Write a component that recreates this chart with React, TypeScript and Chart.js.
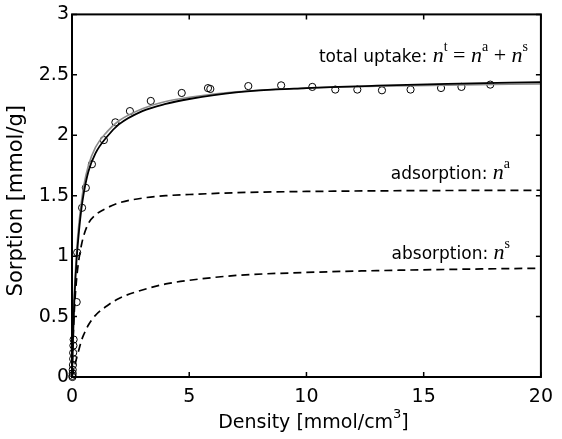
import React, { useEffect, useRef } from "react";
import { Chart, registerables } from "chart.js";

Chart.register(...registerables);

// ---- data ----
const X_CURVE = [0, 0.05, 0.1, 0.2, 0.3, 0.4, 0.5, 0.7, 1, 1.5, 2, 3, 4, 5, 7, 10, 13, 16, 20];
const N_ADSORPTION = [0, 0.32, 0.55, 0.82, 0.98, 1.09, 1.17, 1.27, 1.34, 1.4, 1.44, 1.48, 1.5, 1.51, 1.525, 1.535, 1.54, 1.543, 1.545];
const N_ABSORPTION = [0, 0.04, 0.08, 0.16, 0.23, 0.3, 0.35, 0.43, 0.51, 0.59, 0.65, 0.72, 0.77, 0.8, 0.84, 0.865, 0.88, 0.89, 0.9];
const N_TOTAL = [0, 0.36, 0.63, 0.98, 1.21, 1.39, 1.52, 1.7, 1.85, 1.99, 2.09, 2.2, 2.26, 2.3, 2.355, 2.39, 2.41, 2.425, 2.44];
const N_FIT = [0, 0.42, 0.7, 1.05, 1.28, 1.45, 1.58, 1.75, 1.9, 2.03, 2.12, 2.22, 2.28, 2.315, 2.36, 2.39, 2.405, 2.415, 2.425];

const MEAS_X = [0.02, 0.02, 0.03, 0.03, 0.04, 0.05, 0.05, 0.06, 0.07, 0.2, 0.22, 0.43, 0.59, 0.85, 1.36, 1.85, 2.47, 3.36, 4.68, 5.8, 5.9, 7.52, 8.92, 10.25, 11.23, 12.17, 13.22, 14.44, 15.74, 16.61, 17.84];
const MEAS_Y = [0.0, 0.01, 0.03, 0.06, 0.1, 0.15, 0.2, 0.26, 0.31, 0.62, 1.03, 1.4, 1.565, 1.76, 1.96, 2.107, 2.2, 2.284, 2.35, 2.39, 2.383, 2.407, 2.413, 2.4, 2.378, 2.378, 2.372, 2.378, 2.391, 2.4, 2.419];

const X_TICKS = [0, 5, 10, 15, 20];
const X_TICK_LABELS = ["0", "5", "10", "15", "20"];
const Y_TICKS = [0, 0.5, 1, 1.5, 2, 2.5, 3];
const Y_TICK_LABELS = ["0", "0.5", "1", "1.5", "2", "2.5", "3"];

const X_TITLE = "Density [mmol/cm";
const X_TITLE_SUP = "3";
const Y_TITLE = "Sorption [mmol/g]";

const SANS = "'DejaVu Sans', sans-serif";
const SERIF = "'Liberation Serif', 'Times New Roman', serif";

type Seg = { text: string; font: string; rise?: number };

function drawSegs(ctx: CanvasRenderingContext2D, segs: Seg[], anchorX: number, baseline: number, align: "right" | "center") {
  ctx.textAlign = "left";
  ctx.textBaseline = "alphabetic";
  const widths = segs.map((s) => {
    ctx.font = s.font;
    return ctx.measureText(s.text).width;
  });
  const total = widths.reduce((a, b) => a + b, 0);
  let x = align === "right" ? anchorX - total : anchorX - total / 2;
  segs.forEach((s, i) => {
    ctx.font = s.font;
    ctx.fillText(s.text, x, baseline - (s.rise || 0));
    x += widths[i];
  });
}

const framePlugin = {
  id: "frameAndText",
  afterDraw(chart: any) {
    const ctx: CanvasRenderingContext2D = chart.ctx;
    const a = chart.chartArea;
    const xs = chart.scales.x;
    const ys = chart.scales.y;
    ctx.save();
    ctx.strokeStyle = "#000";
    ctx.fillStyle = "#000";
    // inward ticks on all sides
    ctx.lineWidth = 1.5;
    const tl = 5;
    ctx.beginPath();
    X_TICKS.forEach((v) => {
      const p = xs.getPixelForValue(v);
      ctx.moveTo(p, a.bottom);
      ctx.lineTo(p, a.bottom - tl);
      ctx.moveTo(p, a.top);
      ctx.lineTo(p, a.top + tl);
    });
    Y_TICKS.forEach((v) => {
      const p = ys.getPixelForValue(v);
      ctx.moveTo(a.left, p);
      ctx.lineTo(a.left + tl, p);
      ctx.moveTo(a.right, p);
      ctx.lineTo(a.right - tl, p);
    });
    ctx.stroke();
    // box
    ctx.lineWidth = 2;
    ctx.strokeRect(a.left, a.top, a.right - a.left, a.bottom - a.top);

    // axis titles
    drawSegs(
      ctx,
      [
        { text: X_TITLE, font: `19px ${SANS}` },
        { text: X_TITLE_SUP, font: `13px ${SANS}`, rise: 10 },
        { text: "]", font: `19px ${SANS}` },
      ],
      (a.left + a.right) / 2 + 7,
      428,
      "center"
    );
    ctx.save();
    ctx.translate(17, (a.top + a.bottom) / 2 + 5);
    ctx.rotate(-Math.PI / 2);
    ctx.font = `21px ${SANS}`;
    ctx.textAlign = "center";
    ctx.textBaseline = "middle";
    ctx.fillText(Y_TITLE, 0, 0);
    ctx.restore();

    // annotations
    const nFont = `italic 22px ${SERIF}`;
    const supFont = `14px ${SERIF}`;
    const opFont = `22px ${SERIF}`;
    drawSegs(
      ctx,
      [
        { text: "total uptake: ", font: `17px ${SANS}` },
        { text: "n", font: nFont },
        { text: "t", font: supFont, rise: 11 },
        { text: " = ", font: opFont },
        { text: "n", font: nFont },
        { text: "a", font: supFont, rise: 11 },
        { text: " + ", font: opFont },
        { text: "n", font: nFont },
        { text: "s", font: supFont, rise: 11 },
      ],
      528,
      62,
      "right"
    );
    drawSegs(
      ctx,
      [
        { text: "adsorption: ", font: `17px ${SANS}` },
        { text: "n", font: nFont },
        { text: "a", font: supFont, rise: 11 },
      ],
      510,
      179,
      "right"
    );
    drawSegs(
      ctx,
      [
        { text: "absorption: ", font: `17px ${SANS}` },
        { text: "n", font: nFont },
        { text: "s", font: supFont, rise: 11 },
      ],
      510,
      259,
      "right"
    );
    ctx.restore();
  },
};

function pairs(xs: number[], ys: number[]) {
  return xs.map((x, i) => ({ x, y: ys[i] }));
}

export default function App() {
  const ref = useRef<HTMLCanvasElement | null>(null);
  useEffect(() => {
    if (!ref.current) return;
    const lineBase = {
      showLine: true,
      pointRadius: 0,
      cubicInterpolationMode: "monotone" as const,
      fill: false,
    };
    const chart = new Chart(ref.current, {
      type: "scatter",
      data: {
        datasets: [
          {
            ...lineBase,
            label: "adsorption",
            data: pairs(X_CURVE, N_ADSORPTION),
            borderColor: "#000",
            borderWidth: 1.7,
            borderDash: [8, 5],
          },
          {
            ...lineBase,
            label: "absorption",
            data: pairs(X_CURVE, N_ABSORPTION),
            borderColor: "#000",
            borderWidth: 1.7,
            borderDash: [8, 5],
          },
          {
            ...lineBase,
            label: "total",
            data: pairs(X_CURVE, N_TOTAL),
            borderColor: "#000",
            borderWidth: 1.8,
          },
          {
            ...lineBase,
            label: "fit",
            data: pairs(X_CURVE, N_FIT),
            borderColor: "#8c8c8c",
            borderWidth: 1.6,
          },
          {
            label: "measured",
            data: pairs(MEAS_X, MEAS_Y),
            showLine: false,
            pointStyle: "circle",
            pointRadius: 3.6,
            pointBorderWidth: 1,
            pointBorderColor: "#000",
            pointBackgroundColor: "rgba(0,0,0,0)",
            clip: false,
          } as any,
        ],
      },
      options: {
        responsive: false,
        maintainAspectRatio: false,
        animation: false,
        devicePixelRatio: 1,
        layout: { padding: { top: 14, right: 14, left: 0, bottom: 0 } },
        plugins: { legend: { display: false }, tooltip: { enabled: false } },
        scales: {
          x: {
            type: "linear",
            min: 0,
            max: 20,
            grid: { display: false, drawTicks: false },
            border: { display: false },
            afterBuildTicks: (s: any) => {
              s.ticks = X_TICKS.map((v) => ({ value: v }));
            },
            afterFit: (s: any) => {
              s.height = 62;
            },
            ticks: {
              padding: 9,
              color: "#000",
              font: { family: SANS, size: 19 },
              maxRotation: 0,
              autoSkip: false,
              callback: (_v: any, i: number) => X_TICK_LABELS[i],
            },
          },
          y: {
            type: "linear",
            min: 0,
            max: 3,
            grid: { display: false, drawTicks: false },
            border: { display: false },
            afterBuildTicks: (s: any) => {
              s.ticks = Y_TICKS.map((v) => ({ value: v }));
            },
            afterFit: (s: any) => {
              s.width = 72;
            },
            ticks: {
              padding: 3,
              color: "#000",
              font: { family: SANS, size: 19 },
              autoSkip: false,
              callback: (_v: any, i: number) => Y_TICK_LABELS[i],
            },
          },
        },
      } as any,
      plugins: [framePlugin],
    });
    return () => chart.destroy();
  }, []);
  return (
    <div style={{ position: "fixed", left: 0, top: 0, width: 562, height: 439, background: "#fff" }}>
      <canvas ref={ref} width={562} height={439} style={{ display: "block", width: 562, height: 439 }} />
    </div>
  );
}
